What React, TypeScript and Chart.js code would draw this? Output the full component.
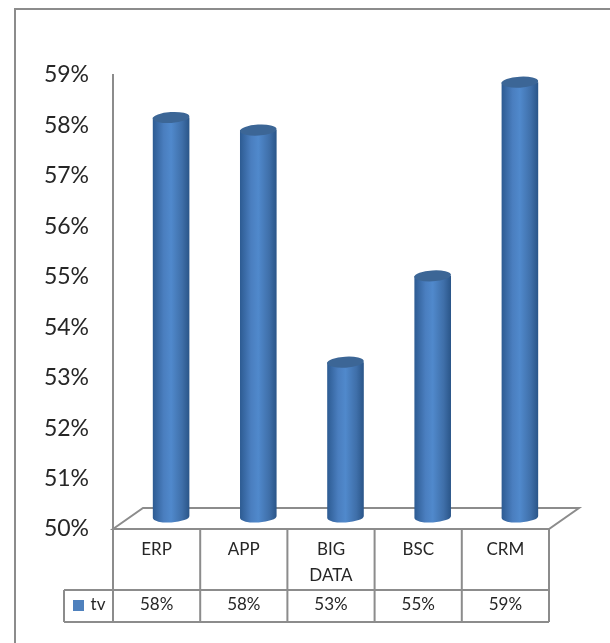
import React, { useEffect, useRef } from "react";
import { Chart, registerables } from "chart.js";

Chart.register(...registerables);

const categories: (string | string[])[] = ["ERP", "APP", ["BIG", "DATA"], "BSC", "CRM"];
const seriesName = "tv";
const tvValues = [57.9, 57.65, 53.05, 54.76, 58.6];
const tableLabels = ["58%", "58%", "53%", "55%", "59%"];

const FONT = "Lato, 'Open Sans', sans-serif";
const LINE = "#8c8c8c";
const DEPTH_X = 14.5;
const DEPTH_Y = 12;

const decor = {
  id: "decor",
  afterDraw(chart: any) {
    const { ctx, chartArea: a, scales } = chart;
    const bottom = a.bottom;
    const tableRow = 590;
    const tableEnd = 622;
    const legendLeft = 64;
    const xs = scales.x;
    const step = (a.right - a.left) / categories.length;
    ctx.save();
    ctx.strokeStyle = LINE;
    ctx.lineWidth = 2;
    // outer chart frame
    ctx.beginPath();
    ctx.moveTo(15, 643);
    ctx.lineTo(15, 9);
    ctx.lineTo(610, 9);
    ctx.stroke();
    // 3-D floor
    ctx.beginPath();
    ctx.moveTo(a.left, bottom);
    ctx.lineTo(a.left + 30, 508);
    ctx.lineTo(a.right + 30, 508);
    ctx.lineTo(a.right, bottom);
    ctx.closePath();
    ctx.stroke();
    // data table lines
    ctx.beginPath();
    for (let i = 0; i <= categories.length; i++) {
      const x = a.left + i * step;
      ctx.moveTo(x, bottom);
      ctx.lineTo(x, tableEnd);
    }
    ctx.moveTo(legendLeft, tableRow);
    ctx.lineTo(a.right, tableRow);
    ctx.moveTo(legendLeft, tableEnd);
    ctx.lineTo(a.right, tableEnd);
    ctx.moveTo(legendLeft, tableRow);
    ctx.lineTo(legendLeft, tableEnd);
    ctx.stroke();
    // table text
    ctx.fillStyle = "#262626";
    ctx.textAlign = "center";
    ctx.textBaseline = "middle";
    ctx.font = `17px ${FONT}`;
    tableLabels.forEach((t, i) => ctx.fillText(t, xs.getPixelForValue(i), 605));
    ctx.fillText(seriesName, 98, 605);
    ctx.fillStyle = "#4f81bd";
    ctx.fillRect(73, 600, 11, 11);
    // cylinders
    chart.getDatasetMeta(0).data.forEach((el: any) => {
      const { x, y, width } = el.getProps(["x", "y", "width"], true);
      const cx = x + DEPTH_X;
      const top = y - 13;
      const bot = scales.y.getPixelForValue(scales.y.min) - DEPTH_Y;
      const rx = width / 2;
      const ry = 5.5;
      const tilt = -0.06;
      const g = ctx.createLinearGradient(cx - rx, 0, cx + rx, 0);
      g.addColorStop(0, "#2d5b92");
      g.addColorStop(0.3, "#4a7ebf");
      g.addColorStop(0.5, "#5089cc");
      g.addColorStop(0.8, "#3f6fa9");
      g.addColorStop(1, "#2a5588");
      ctx.fillStyle = g;
      ctx.beginPath();
      ctx.ellipse(cx, bot, rx, ry, tilt, 0, Math.PI);
      ctx.lineTo(cx - rx, top);
      ctx.lineTo(cx + rx, top);
      ctx.closePath();
      ctx.fill();
      ctx.fillStyle = "#3c6696";
      ctx.beginPath();
      ctx.ellipse(cx, top, rx, ry, tilt, 0, Math.PI * 2);
      ctx.fill();
    });
    ctx.restore();
  },
};

export default function App() {
  const ref = useRef<HTMLCanvasElement>(null);
  useEffect(() => {
    const chart = new Chart(ref.current!, {
      type: "bar",
      data: {
        labels: categories as any,
        datasets: [
          {
            label: seriesName,
            data: tvValues,
            backgroundColor: "rgba(0,0,0,0)",
            barPercentage: 0.42,
            categoryPercentage: 1,
          },
        ],
      },
      plugins: [decor],
      options: {
        responsive: false,
        animation: false,
        layout: { padding: { top: 75, right: 61, bottom: 0, left: 0 } },
        plugins: { legend: { display: false }, tooltip: { enabled: false } },
        scales: {
          x: {
            afterFit: (s: any) => {
              s.height = 114;
            },
            grid: { display: false, drawTicks: false },
            border: { display: false },
            ticks: {
              color: "#262626",
              font: { family: FONT, size: 17, lineHeight: 1.5 },
              padding: 8,
              maxRotation: 0,
              autoSkip: false,
            },
          },
          y: {
            min: 50,
            max: 59,
            afterFit: (s: any) => {
              s.width = 113;
            },
            grid: { display: false, drawTicks: false },
            border: { display: true, color: LINE, width: 2 },
            ticks: {
              stepSize: 1,
              color: "#262626",
              font: { family: FONT, size: 23 },
              padding: 24,
              callback: (v: any) => `${v}%`,
            },
          },
        },
      },
    });
    return () => chart.destroy();
  }, []);
  return (
    <div style={{ position: "fixed", left: 0, top: 0, background: "#fff" }}>
      <canvas ref={ref} width={610} height={643} style={{ display: "block" }} />
    </div>
  );
}
